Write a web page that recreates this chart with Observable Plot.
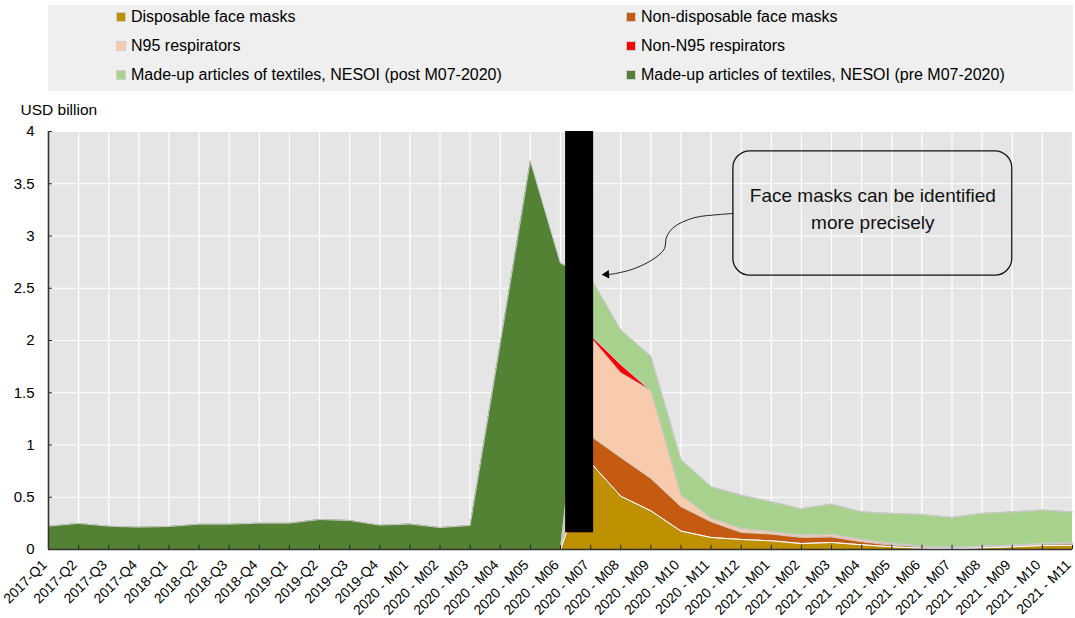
<!DOCTYPE html>
<html>
<head>
<meta charset="utf-8">
<script src="https://cdn.jsdelivr.net/npm/d3@7"></script>
<script src="https://cdn.jsdelivr.net/npm/@observablehq/plot@0.6"></script>
<style>
  html, body { margin: 0; padding: 0; background: #fff; }
  body { font-family: "Liberation Sans", Arial, sans-serif; color: #000; width: 1075px; }
  #legend { position: relative; margin-left: 48px; margin-top: 5px; width: 1025px; height: 86px; background: #efefef; }
  .item { position: absolute; font-size: 16px; line-height: 18px; display: flex; align-items: center; white-space: nowrap; transform: translateY(-50%); }
  .sw { width: 8px; height: 8px; border: 1px solid #cfcfcf; margin-right: 5px; flex: none; }
  #chart svg { display: block; }
</style>
</head>
<body>
<div id="legend"></div>
<div id="chart"></div>
<script>
// ---------- data ----------
const categories = [
  "2017-Q1","2017-Q2","2017-Q3","2017-Q4",
  "2018-Q1","2018-Q2","2018-Q3","2018-Q4",
  "2019-Q1","2019-Q2","2019-Q3","2019-Q4",
  "2020 - M01","2020 - M02","2020 - M03","2020 - M04","2020 - M05","2020 - M06",
  "2020 - M07","2020 - M08","2020 - M09","2020 - M10","2020 - M11","2020 - M12",
  "2021 - M01","2021 - M02","2021 - M03","2021 - M04","2021 - M05","2021 - M06",
  "2021 - M07","2021 - M08","2021 - M09","2021 - M10","2021 - M11"
];
const seriesNames = [
  "Disposable face masks",
  "Non-disposable face masks",
  "N95 respirators",
  "Non-N95 respirators",
  "Made-up articles of textiles, NESOI (post M07-2020)",
  "Made-up articles of textiles, NESOI (pre M07-2020)"
];
const seriesColors = ["#bf9000", "#c55a11", "#f8cbad", "#ff0000", "#a9d18e", "#548235"];

// USD billion, one value per category
const disposable = [0,0,0,0,0,0,0,0,0,0,0,0,0,0,0,0,0,0,
  0.83,0.51,0.37,0.176,0.115,0.096,0.083,0.057,0.067,0.045,0.026,0.013,0.006,0.016,0.026,0.038,0.038];
const nonDisposable = [0,0,0,0,0,0,0,0,0,0,0,0,0,0,0,0,0,0,
  0.255,0.37,0.31,0.234,0.15,0.067,0.064,0.058,0.053,0.028,0.016,0.013,0.004,0.008,0.009,0.012,0.014];
const n95 = [0,0,0,0,0,0,0,0,0,0,0,0,0,0,0,0,0,0,
  0.945,0.81,0.84,0.11,0.035,0.037,0.023,0.022,0.024,0.023,0.015,0.006,0.01,0.008,0.005,0.007,0.012];
const nonN95 = [0,0,0,0,0,0,0,0,0,0,0,0,0,0,0,0,0,0,
  0.02,0.08,0,0,0,0,0,0,0,0,0,0,0,0,0,0,0];
const textilesPost = [0,0,0,0,0,0,0,0,0,0,0,0,0,0,0,0,0,0,
  0.55,0.33,0.33,0.34,0.30,0.32,0.286,0.253,0.29,0.264,0.288,0.303,0.286,0.313,0.32,0.32,0.296];
const textilesPre = [0.223,0.249,0.223,0.214,0.220,0.242,0.242,0.252,0.252,0.287,0.277,0.233,
  0.243,0.210,0.230,1.970,3.720,2.740,
  0,0,0,0,0,0,0,0,0,0,0,0,0,0,0,0,0];
const yTicks = [0, 0.5, 1, 1.5, 2, 2.5, 3, 3.5, 4];
const yLabel = "USD billion";
const calloutText = "Face masks can be identified\nmore precisely";
const breakCategory = "2020 - M07";

// ---------- build table ----------
const seriesValues = [disposable, nonDisposable, n95, nonN95, textilesPost, textilesPre];
const rows = [];
seriesNames.forEach((s, k) => {
  seriesValues[k].forEach((v, i) => rows.push({i, cat: categories[i], s, v}));
});
const goldRows = rows.filter(d => d.s === seriesNames[0]);

// ---------- legend ----------
const legend = document.getElementById("legend");
const legendPos = [[68, 12], [578, 12], [68, 41], [578, 41], [68, 70], [578, 70]];
seriesNames.forEach((s, k) => {
  const it = document.createElement("div");
  it.className = "item";
  it.style.left = legendPos[k][0] + "px";
  it.style.top = legendPos[k][1] + "px";
  const sw = document.createElement("span");
  sw.className = "sw";
  sw.style.background = seriesColors[k];
  const tx = document.createElement("span");
  tx.textContent = s;
  it.appendChild(sw); it.appendChild(tx);
  legend.appendChild(it);
});

// ---------- annotation geometry (in data units) ----------
const bi = categories.indexOf(breakCategory);
const blackBar = [{x1: bi - 0.83, x2: bi + 0.1, y1: 0.16, y2: 4}];
const callBox = [{x1: bi + 4.74, x2: bi + 14.0, y1: 2.62, y2: 3.81}];
const callText = [{x: bi + 9.37, y: 3.28, t: calloutText}];
const arrowPath = [
  {x: bi + 4.74, y: 3.215}, {x: bi + 4.31, y: 3.206}, {x: bi + 3.43, y: 3.174},
  {x: bi + 2.76, y: 3.084}, {x: bi + 2.52, y: 2.989}, {x: bi + 2.45, y: 2.878},
  {x: bi + 2.10, y: 2.782}, {x: bi + 1.43, y: 2.686}, {x: bi + 0.77, y: 2.638},
  {x: bi + 0.60, y: 2.632}
];
const arrowHead = [{x: bi + 0.53, y: 2.632}];

const n = categories.length;

const plot = Plot.plot({
  width: 1075,
  height: 527,
  marginTop: 40,
  marginBottom: 69,
  marginLeft: 48,
  marginRight: 3,
  style: {fontFamily: '"Liberation Sans", Arial, sans-serif', fontSize: "15px", color: "#000", background: "transparent"},
  x: {type: "linear", domain: [0, n - 1]},
  y: {domain: [0, 4]},
  marks: [
    Plot.frame({fill: "#e5e5e5", stroke: "#d6d6d6"}),
    Plot.gridX(d3.range(n), {stroke: "#fff", strokeOpacity: 1, strokeWidth: 1.2}),
    Plot.gridY(yTicks, {stroke: "#fff", strokeOpacity: 1, strokeWidth: 1.2}),
    Plot.areaY(rows, Plot.stackY({
      x: "i", y: "v", z: "s", order: seriesNames,
      fill: d => seriesColors[seriesNames.indexOf(d.s)]
    })),
    Plot.lineY(rows, Plot.stackY2({
      x: "i", y: "v", z: "s", order: seriesNames,
      stroke: "#c9c9c9", strokeWidth: 1
    })),
    Plot.lineY(goldRows, {x: "i", y: "v", stroke: "#ffffff", strokeWidth: 1}),
    // axis lines and inner ticks
    Plot.ruleX(d3.range(1, n), {y1: 0, y2: 0.04, stroke: "#222", strokeWidth: 1}),
    Plot.ruleY(yTicks.slice(1), {x1: 0, x2: 0.13, stroke: "#222", strokeWidth: 1}),
    Plot.ruleY([0], {stroke: "#333", strokeWidth: 1.6}),
    Plot.ruleX([0], {stroke: "#333", strokeWidth: 1.6}),
    Plot.axisY({ticks: yTicks, tickSize: 0, tickPadding: 14, label: null, tickFormat: d => String(d)}),
    Plot.axisX({ticks: d3.range(n), tickFormat: i => categories[i], tickRotate: -45, tickSize: 0, tickPadding: 13, dx: -4, fontSize: 14, label: null}),
    // annotations
    Plot.rect(blackBar, {x1: "x1", x2: "x2", y1: "y1", y2: "y2", fill: "#000"}),
    Plot.rect(callBox, {x1: "x1", x2: "x2", y1: "y1", y2: "y2", fill: "none", stroke: "#111", strokeWidth: 1.3, rx: 17}),
    Plot.text(callText, {x: "x", y: "y", text: "t", fontSize: 19, lineHeight: 1.4, fill: "#111"}),
    Plot.line(arrowPath, {x: "x", y: "y", curve: "catmull-rom", stroke: "#222", strokeWidth: 1}),
    Plot.dot(arrowHead, {x: "x", y: "y", symbol: "triangle", r: 3.2, fill: "#000", stroke: "none", rotate: -94}),
    Plot.text([yLabel], {frameAnchor: "top-left", text: d => d, dx: -28, dy: -17, textAnchor: "start", lineAnchor: "bottom", fontSize: 15.5, fill: "#000"})
  ]
});
document.getElementById("chart").appendChild(plot);
</script>
</body>
</html>
